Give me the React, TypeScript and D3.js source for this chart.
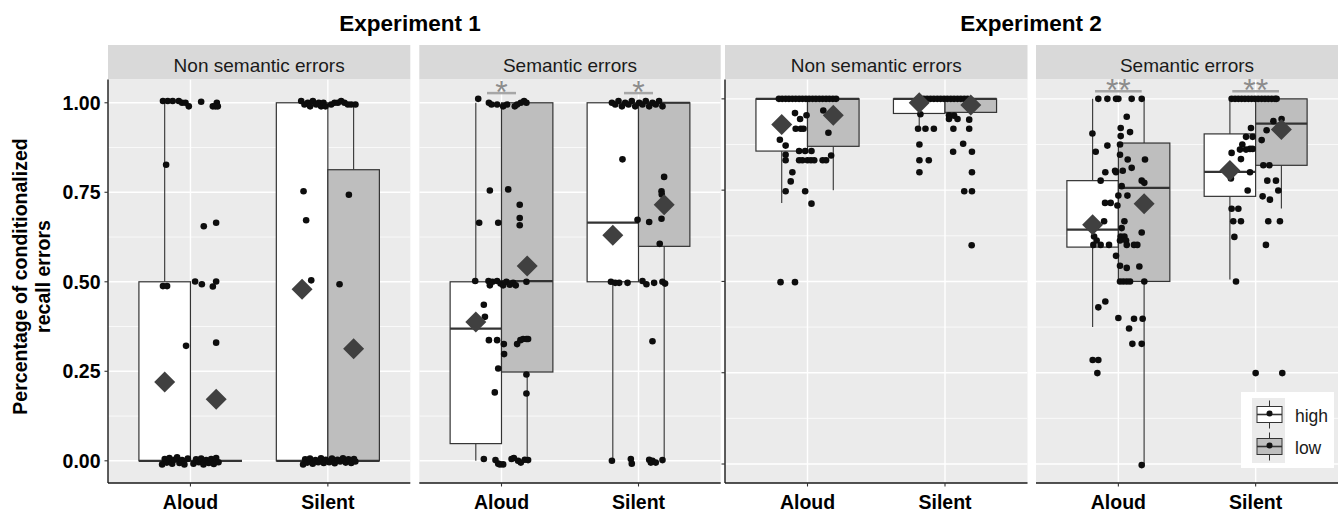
import React from 'react';
import * as d3 from 'd3';

const W = 1341;
const H = 513;
const FONT = '"Liberation Sans", Arial, sans-serif';

const conditions = ['Aloud', 'Silent'];
const yTicks = [0, 0.25, 0.5, 0.75, 1];
const yTickLabels = ['0.00', '0.25', '0.50', '0.75', '1.00'];
const yMinor = [0.125, 0.375, 0.625, 0.875];
const legendGroups = ['high', 'low'];

// [condition, group, lower whisker, q1, median, q3, upper whisker, mean]
const e1NonSemBoxes = [
  ['Aloud', 'high', 0, 0, 0, 0.5, 1, 0.22],
  ['Aloud', 'low', 0, 0, 0, 0, 0, 0.172],
  ['Silent', 'high', 0, 0, 0, 1, 1, 0.479],
  ['Silent', 'low', 0, 0, 0, 0.813, 1, 0.313],
];
const e1SemBoxes = [
  ['Aloud', 'high', 0, 0.048, 0.369, 0.5, 1, 0.388],
  ['Aloud', 'low', 0, 0.248, 0.502, 1, 1, 0.544],
  ['Silent', 'high', 0, 0.5, 0.665, 1, 1, 0.63],
  ['Silent', 'low', 0, 0.599, 1, 1, 1, 0.715],
];
const e2NonSemBoxes = [
  ['Aloud', 'high', 0.715, 0.857, 1, 1, 1, 0.93],
  ['Aloud', 'low', 0.75, 0.87, 1, 1, 1, 0.955],
  ['Silent', 'high', 0.92, 0.96, 1, 1, 1, 0.989],
  ['Silent', 'low', 0.963, 0.963, 1, 1, 1, 0.983],
];
const e2SemBoxes = [
  ['Aloud', 'high', 0.375, 0.594, 0.642, 0.776, 1, 0.655],
  ['Aloud', 'low', 0, 0.5, 0.756, 0.879, 1, 0.713],
  ['Silent', 'high', 0.505, 0.733, 0.8, 0.904, 1, 0.804],
  ['Silent', 'low', 0.7, 0.818, 0.932, 1, 1, 0.916],
];

// jittered raw points: [offset from condition centre (category units), value]
const e1nsAloud = [
  [-0.2, 1.005], [-0.165, 1.005], [-0.129, 1.005], [-0.085, 1.005], [-0.061, 1.0], [-0.036, 1.0], [-0.012, 0.99],
  [-0.177, 0.827], [-0.2, 0.488], [-0.17, 0.488], [-0.032, 0.321],
  [-0.206, -0.01], [-0.187, 0.005], [-0.172, -0.005], [-0.153, 0.008], [-0.133, -0.008], [-0.116, 0.003],
  [-0.097, 0.01], [-0.08, -0.006], [-0.061, 0.002], [-0.044, -0.01], [-0.019, 0.006],
  [0.078, 1.003], [0.163, 0.99], [0.182, 0.99], [0.192, 1.0], [0.199, 0.99],
  [0.097, 0.655], [0.187, 0.665], [0.034, 0.501], [0.083, 0.493], [0.163, 0.487], [0.187, 0.501], [0.187, 0.33],
  [0.022, -0.008], [0.041, 0.004], [0.061, -0.004], [0.078, 0.006], [0.095, -0.01], [0.114, 0.002],
  [0.133, -0.006], [0.151, 0.005], [0.17, -0.009], [0.187, 0.008], [0.204, -0.004],
];
const e1nsSilent = [
  [-0.194, 1.005], [-0.17, 0.995], [-0.146, 1.0], [-0.129, 0.99], [-0.109, 1.005], [-0.085, 0.995],
  [-0.066, 1.0], [-0.049, 0.99], [-0.032, 1.0], [-0.017, 0.99],
  [-0.177, 0.753], [-0.158, 0.672], [-0.121, 0.504],
  [-0.18, -0.01], [-0.165, 0.004], [-0.15, -0.005], [-0.13, 0.006], [-0.11, -0.008], [-0.09, 0.002],
  [-0.07, -0.004], [-0.05, 0.007], [-0.03, -0.006], [-0.015, 0.003],
  [0.024, 0.995], [0.049, 1.0], [0.073, 1.0], [0.097, 1.005], [0.121, 1.0], [0.146, 0.995], [0.17, 0.995], [0.201, 0.995],
  [0.153, 0.743], [0.085, 0.493],
  [0.01, -0.004], [0.03, 0.006], [0.05, -0.007], [0.07, 0.003], [0.09, -0.002], [0.11, 0.007],
  [0.13, -0.005], [0.15, 0.004], [0.17, -0.006], [0.19, 0.005], [0.2, -0.002],
];
const e1sAloud = [
  [-0.17, 1.011], [-0.092, 1.0], [-0.073, 0.995], [-0.032, 0.995], [0.012, 0.99], [0.041, 0.995],
  [0.097, 0.99], [0.114, 0.995], [0.141, 1.0], [0.165, 1.005], [0.182, 1.0],
  [-0.085, 0.755], [0.049, 0.758], [0.133, 0.715], [0.133, 0.678], [0.133, 0.658],
  [-0.163, 0.665], [-0.024, 0.665],
  [-0.192, 0.502], [-0.095, 0.502], [-0.085, 0.49], [-0.066, 0.5], [-0.032, 0.502], [-0.007, 0.495],
  [0.012, 0.49], [0.036, 0.5], [0.061, 0.492], [0.085, 0.497], [0.104, 0.49], [0.182, 0.5],
  [-0.129, 0.436], [-0.121, 0.402],
  [-0.092, 0.337], [-0.032, 0.337], [0.114, 0.326], [0.138, 0.337], [0.158, 0.34], [0.182, 0.34], [0.194, 0.34],
  [0.017, 0.326], [0.019, 0.298], [-0.024, 0.258], [0.182, 0.241], [-0.049, 0.191], [0.182, 0.188],
  [-0.129, 0.005], [-0.044, 0.002], [-0.024, -0.008], [-0.012, -0.01], [0.012, -0.01], [0.073, 0.005],
  [0.09, 0.008], [0.121, 0.0], [0.141, -0.005], [0.17, 0.003], [0.194, 0.002],
];
const e1sSilent = [
  [-0.194, 1.0], [-0.17, 0.995], [-0.146, 1.005], [-0.121, 0.99], [-0.097, 1.0], [-0.073, 0.995],
  [-0.049, 1.005], [-0.024, 0.99], [0.005, 1.0], [0.029, 0.995], [0.053, 1.005], [0.078, 0.99],
  [0.102, 1.0], [0.126, 0.995], [0.15, 1.005], [0.175, 0.99],
  [-0.117, 0.842], [0.187, 0.793], [0.168, 0.753], [0.17, 0.744], [-0.007, 0.673], [0.168, 0.676],
  [0.078, 0.667], [0.155, 0.606],
  [-0.201, 0.5], [-0.17, 0.497], [-0.141, 0.497], [-0.08, 0.497], [0.029, 0.502], [0.058, 0.493],
  [0.114, 0.497], [0.175, 0.5], [0.194, 0.495],
  [0.102, 0.334],
  [-0.194, 0.0], [-0.056, 0.005], [-0.049, -0.008], [0.078, 0.003], [0.09, -0.005], [0.102, 0.0],
  [0.126, -0.005], [0.175, 0.002],
];
const e2nsAloud = [
  [-0.208, 1.0], [-0.184, 1.0], [-0.159, 1.0], [-0.135, 1.0], [-0.11, 1.0], [-0.086, 1.0],
  [-0.061, 1.0], [-0.037, 1.0], [-0.012, 1.0], [0.012, 1.0], [0.037, 1.0], [0.061, 1.0],
  [0.086, 1.0], [0.11, 1.0], [0.135, 1.0], [0.159, 1.0], [0.184, 1.0], [0.208, 1.0],
  [-0.091, 0.961], [-0.007, 0.955], [0.115, 0.968], [-0.054, 0.945],
  [-0.086, 0.918], [-0.049, 0.918], [-0.029, 0.918], [0.152, 0.907], [-0.201, 0.888], [-0.159, 0.872],
  [-0.061, 0.857], [-0.017, 0.857], [0.029, 0.857], [-0.159, 0.847], [0.172, 0.845],
  [-0.159, 0.832], [-0.061, 0.832], [-0.037, 0.832], [0.0, 0.832], [0.025, 0.832], [0.049, 0.832],
  [0.11, 0.832], [0.135, 0.832],
  [-0.11, 0.799], [-0.122, 0.774], [-0.159, 0.747], [-0.017, 0.747], [0.029, 0.713],
  [-0.196, 0.498], [-0.091, 0.498],
];
const e2nsSilent = [
  [-0.179, 1.0], [-0.154, 1.0], [-0.13, 1.0], [-0.105, 1.0], [-0.081, 1.0], [-0.056, 1.0],
  [-0.032, 1.0], [-0.007, 1.0], [0.017, 1.0], [0.042, 1.0], [0.066, 1.0], [0.091, 1.0],
  [0.115, 1.0], [0.14, 1.0], [0.164, 1.0],
  [-0.179, 0.958], [0.029, 0.955], [0.066, 0.954], [0.029, 0.945], [0.091, 0.945], [0.176, 0.943],
  [-0.196, 0.918], [-0.142, 0.918], [-0.081, 0.918], [0.061, 0.918], [0.176, 0.918],
  [-0.186, 0.875], [0.132, 0.877], [0.059, 0.855], [0.196, 0.855],
  [-0.186, 0.832], [-0.118, 0.832], [-0.186, 0.799], [0.196, 0.799],
  [0.14, 0.747], [0.196, 0.747], [0.194, 0.599],
];
const e2sAloud = [
  [-0.146, 1.0], [-0.08, 1.0], [-0.017, 1.0], [0.0, 1.0], [0.097, 1.0], [0.17, 1.0],
  [0.061, 0.951], [0.017, 0.92], [0.085, 0.909], [-0.189, 0.905], [0.017, 0.898],
  [-0.08, 0.872], [0.012, 0.875], [-0.165, 0.855], [0.012, 0.847], [0.068, 0.834], [0.194, 0.834],
  [0.097, 0.811], [-0.024, 0.803], [0.032, 0.803], [-0.095, 0.799], [-0.017, 0.799],
  [-0.129, 0.776], [0.17, 0.776], [0.189, 0.77], [0.024, 0.761], [0.0, 0.735], [0.066, 0.735],
  [-0.097, 0.715], [-0.056, 0.715], [-0.007, 0.708], [-0.104, 0.665], [0.044, 0.665],
  [0.024, 0.646], [0.17, 0.634], [-0.177, 0.623], [0.017, 0.623], [0.044, 0.623],
  [-0.158, 0.612], [0.012, 0.612], [0.056, 0.612],
  [-0.182, 0.6], [-0.129, 0.6], [-0.068, 0.6], [0.061, 0.6], [0.114, 0.6], [0.138, 0.6],
  [-0.017, 0.57], [0.012, 0.543], [0.153, 0.541], [0.061, 0.537],
  [0.012, 0.5], [0.036, 0.5], [0.061, 0.5], [0.085, 0.5], [0.189, 0.5],
  [-0.095, 0.445], [-0.146, 0.429], [0.0, 0.4], [0.114, 0.398], [0.177, 0.398], [0.078, 0.371],
  [0.102, 0.329], [0.17, 0.329], [-0.187, 0.285], [-0.146, 0.285], [-0.153, 0.249], [0.17, -0.003],
];
const e2sSilent = [
  [-0.175, 1.0], [-0.15, 1.0], [-0.126, 1.0], [-0.102, 1.0], [-0.078, 1.0], [-0.053, 1.0],
  [-0.029, 1.0], [-0.005, 1.0], [0.019, 1.0], [0.044, 1.0], [0.068, 1.0], [0.092, 1.0],
  [0.117, 1.0], [0.141, 1.0], [0.153, 1.0],
  [0.129, 0.939], [0.189, 0.945], [-0.034, 0.92], [0.08, 0.914],
  [-0.07, 0.896], [-0.022, 0.896], [0.044, 0.887], [-0.097, 0.875], [-0.041, 0.863], [-0.022, 0.863],
  [-0.114, 0.861], [-0.07, 0.861], [-0.175, 0.852], [-0.107, 0.835], [0.056, 0.818], [0.1, 0.818],
  [-0.192, 0.811], [-0.041, 0.799], [-0.18, 0.782], [0.085, 0.776], [0.148, 0.776],
  [-0.058, 0.749], [0.165, 0.749], [0.051, 0.733], [0.104, 0.724], [-0.175, 0.699], [-0.126, 0.699],
  [-0.163, 0.665], [-0.107, 0.665], [0.092, 0.665], [0.177, 0.665],
  [-0.155, 0.622], [0.075, 0.6], [-0.143, 0.5], [0.0, 0.249], [0.194, 0.249],
];

// significance marks: [condition, label]
const e1Sig = [['Aloud', '*'], ['Silent', '*']];
const e2Sig = [['Aloud', '**'], ['Silent', '**']];

const experiments = [
  { title: 'Experiment 1', cx: 410, yDomain: [-0.062, 1.065], sigHalf: 0.106, sigY: 1.027 },
  { title: 'Experiment 2', cx: 1031, yDomain: [-0.052, 1.053], sigHalf: 0.17, sigY: 1.021 },
];

const panels = [
  { exp: 0, strip: 'Non semantic errors', left: 108, right: 410.3, boxes: e1NonSemBoxes, pts: { Aloud: e1nsAloud, Silent: e1nsSilent }, sig: null, axis: 'labels' },
  { exp: 0, strip: 'Semantic errors', left: 419.3, right: 720.7, boxes: e1SemBoxes, pts: { Aloud: e1sAloud, Silent: e1sSilent }, sig: e1Sig, axis: 'none' },
  { exp: 1, strip: 'Non semantic errors', left: 725, right: 1027.5, boxes: e2NonSemBoxes, pts: { Aloud: e2nsAloud, Silent: e2nsSilent }, sig: null, axis: 'ticks' },
  { exp: 1, strip: 'Semantic errors', left: 1036, right: 1338, boxes: e2SemBoxes, pts: { Aloud: e2sAloud, Silent: e2sSilent }, sig: e2Sig, axis: 'none' },
];

const STRIP_TOP = 45;
const PLOT_TOP = 79.5;
const PLOT_BOTTOM = 483;
const FILL = { high: '#ffffff', low: '#bebebe' };
const DODGE = 0.1875;

function diamond(cx: number, cy: number, r: number) {
  return `M${cx},${cy - r}L${cx + r},${cy}L${cx},${cy + r}L${cx - r},${cy}Z`;
}

function Panel({ p }: { p: any }) {
  const ex = experiments[p.exp];
  const x = d3.scalePoint().domain(conditions).range([p.left, p.right]).padding(0.6);
  const step = x.step();
  const y = d3.scaleLinear().domain(ex.yDomain).range([PLOT_BOTTOM, PLOT_TOP]);
  const clipId = `clip-${p.left}`;
  const groupX = (c: string, g: string) => (x(c) as number) + (g === 'high' ? -DODGE : DODGE) * step;
  const hw = DODGE * step;

  return (
    <g>
      <defs>
        <clipPath id={clipId}>
          <rect x={p.left} y={PLOT_TOP} width={p.right - p.left} height={PLOT_BOTTOM - PLOT_TOP} />
        </clipPath>
      </defs>
      <rect x={p.left} y={STRIP_TOP} width={p.right - p.left} height={PLOT_TOP - STRIP_TOP} fill="#d9d9d9" />
      <text x={(p.left + p.right) / 2} y={71.5} textAnchor="middle" fontSize={19} fill="#1a1a1a" fontFamily={FONT}>
        {p.strip}
      </text>
      <rect x={p.left} y={PLOT_TOP} width={p.right - p.left} height={PLOT_BOTTOM - PLOT_TOP} fill="#ebebeb" />
      <g clipPath={`url(#${clipId})`}>
        {yMinor.map((t) => (
          <line key={'mi' + t} x1={p.left} x2={p.right} y1={y(t)} y2={y(t)} stroke="#fff" strokeWidth={0.7} />
        ))}
        {yTicks.map((t) => (
          <line key={'ma' + t} x1={p.left} x2={p.right} y1={y(t)} y2={y(t)} stroke="#fff" strokeWidth={1.4} />
        ))}
        {conditions.map((c) => (
          <line key={'v' + c} x1={x(c)} x2={x(c)} y1={PLOT_TOP} y2={PLOT_BOTTOM} stroke="#fff" strokeWidth={1.4} />
        ))}
        {p.boxes.map((b: any) => {
          const [c, g, lo, q1, med, q3, hi] = b;
          const cx = groupX(c, g);
          return (
            <g key={'b' + c + g}>
              <line x1={cx} x2={cx} y1={y(q3)} y2={y(hi)} stroke="#333" strokeWidth={1.1} />
              <line x1={cx} x2={cx} y1={y(q1)} y2={y(lo)} stroke="#333" strokeWidth={1.1} />
              {q3 > q1 && (
                <rect x={cx - hw} y={y(q3)} width={hw * 2} height={y(q1) - y(q3)} fill={FILL[g as 'high' | 'low']} stroke="#333" strokeWidth={1.2} />
              )}
              <line x1={cx - hw} x2={cx + hw} y1={y(med)} y2={y(med)} stroke="#333" strokeWidth={2.2} />
            </g>
          );
        })}
        {conditions.map((c) =>
          p.pts[c].map((d: number[], i: number) => (
            <circle key={c + i} cx={(x(c) as number) + d[0] * step} cy={y(d[1])} r={3.3} fill="#0d0d0d" />
          ))
        )}
        {p.boxes.map((b: any) => (
          <path key={'m' + b[0] + b[1]} d={diamond(groupX(b[0], b[1]), y(b[7]), 10.5)} fill="#404040" />
        ))}
      </g>
      {p.sig &&
        p.sig.map((s: string[]) => {
          const cx = x(s[0]) as number;
          return (
            <g key={'s' + s[0]}>
              <line x1={cx - ex.sigHalf * step} x2={cx + ex.sigHalf * step} y1={y(ex.sigY)} y2={y(ex.sigY)} stroke="#a6a6a6" strokeWidth={2.5} />
              <text x={cx} y={y(ex.sigY) + 10} textAnchor="middle" fontSize={32} fill="#8c8c8c" fontFamily={FONT}>
                {s[1]}
              </text>
            </g>
          );
        })}
      <line x1={p.left} x2={p.right} y1={PLOT_BOTTOM} y2={PLOT_BOTTOM} stroke="#1a1a1a" strokeWidth={1.4} />
      {conditions.map((c) => (
        <g key={'xt' + c}>
          <line x1={x(c)} x2={x(c)} y1={PLOT_BOTTOM} y2={PLOT_BOTTOM + 3.5} stroke="#333" strokeWidth={1.1} />
          <text x={x(c)} y={508.5} textAnchor="middle" fontSize={19.5} fontWeight="bold" fill="#000" fontFamily={FONT}>
            {c}
          </text>
        </g>
      ))}
      {p.axis !== 'none' && (
        <g>
          <line x1={p.left} x2={p.left} y1={PLOT_TOP} y2={PLOT_BOTTOM} stroke="#1a1a1a" strokeWidth={1.4} />
          {yTicks.map((t, i) => (
            <g key={'yt' + t}>
              <line x1={p.left - 3.5} x2={p.left} y1={y(t)} y2={y(t)} stroke="#333" strokeWidth={1.1} />
              {p.axis === 'labels' && (
                <text x={p.left - 7.5} y={y(t) + 6.9} textAnchor="end" fontSize={19.5} fontWeight="bold" fill="#000" fontFamily={FONT}>
                  {yTickLabels[i]}
                </text>
              )}
            </g>
          ))}
        </g>
      )}
    </g>
  );
}

function Legend() {
  const keyY = [414.5, 446.5];
  return (
    <g>
      <rect x={1241} y={392} width={93} height={76} fill="#fff" />
      <rect x={1252} y={398} width={33} height={65} fill="#ebebeb" />
      {legendGroups.map((g, i) => (
        <g key={g}>
          <line x1={1269.5} x2={1269.5} y1={keyY[i] - 14} y2={keyY[i] + 14} stroke="#333" strokeWidth={1} />
          <rect x={1257} y={keyY[i] - 8} width={25} height={16} fill={FILL[g as 'high' | 'low']} stroke="#333" strokeWidth={1} />
          <line x1={1257} x2={1282} y1={keyY[i]} y2={keyY[i]} stroke="#333" strokeWidth={1.6} />
          <circle cx={1269.5} cy={keyY[i] - 1} r={3} fill="#111" />
          <text x={1295} y={keyY[i] + 7.5} fontSize={17.5} fill="#1a1a1a" fontFamily={FONT}>
            {g}
          </text>
        </g>
      ))}
    </g>
  );
}

export default function App() {
  return (
    <svg width={W} height={H} style={{ display: 'block', position: 'absolute', left: 0, top: 0 }}>
      <rect width={W} height={H} fill="#fff" />
      {experiments.map((e) => (
        <text key={e.title} x={e.cx} y={31} textAnchor="middle" fontSize={22.5} fontWeight="bold" fill="#000" fontFamily={FONT}>
          {e.title}
        </text>
      ))}
      <text transform="translate(27,276.5) rotate(-90)" textAnchor="middle" fontSize={19.5} fontWeight="bold" fill="#000" fontFamily={FONT}>
        Percentage of conditionalized
      </text>
      <text transform="translate(50,276.5) rotate(-90)" textAnchor="middle" fontSize={19.5} fontWeight="bold" fill="#000" fontFamily={FONT}>
        recall errors
      </text>
      {panels.map((p) => (
        <Panel key={p.left} p={p} />
      ))}
      <Legend />
    </svg>
  );
}
